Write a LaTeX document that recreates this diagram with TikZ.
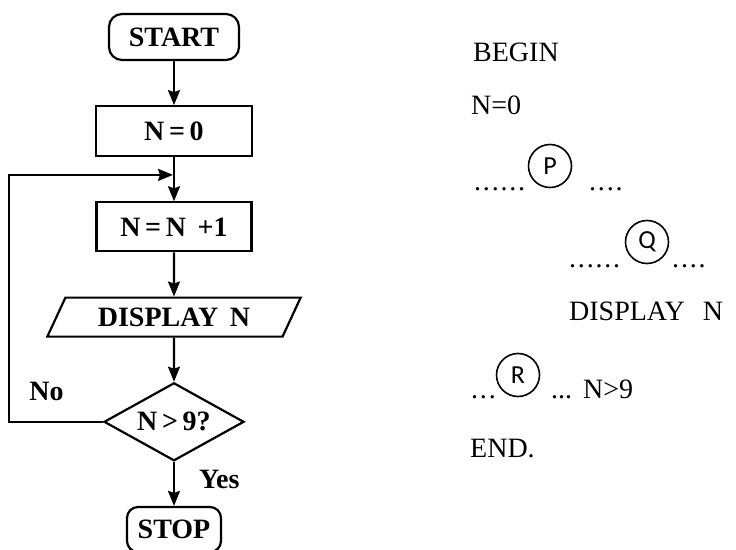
\documentclass[tikz,border=0pt]{standalone}
\usepackage{fontspec}
\setmainfont{Liberation Serif}
\newfontfamily\circfont{Carlito}
\usetikzlibrary{arrows.meta,positioning,shapes.geometric,calc}
\newcommand{\dts}{.\kern1.8pt}

\begin{document}
\begin{tikzpicture}[x=1pt, y=1pt,
  node distance=44pt,
  fc/.style={draw, line width=2.2pt, inner sep=0pt, align=center,
              font=\fontsize{28}{32}\selectfont\bfseries},
  term/.style={fc, rounded corners=13pt},
  proc/.style={fc, minimum width=156pt, minimum height=50pt},
  io/.style={fc, trapezium, trapezium left angle=56, trapezium right angle=124,
             trapezium stretches=true, minimum width=254pt, minimum height=39pt},
  dec/.style={fc, diamond, aspect=1.8, minimum width=140pt, minimum height=78pt},
  arr/.style={-{Stealth[length=15pt, width=12pt, inset=2pt]}, line width=2.2pt},
  lbl/.style={inner sep=0pt, font=\fontsize{28}{32}\selectfont\bfseries},
  txt/.style={inner sep=0pt, anchor=base west, font=\fontsize{28}{32}\selectfont},
  circ/.style={draw, circle, line width=1.6pt, minimum size=43pt, inner sep=0pt,
               font=\circfont\fontsize{26}{30}\selectfont},
]
\useasboundingbox (0,0) rectangle (736,549);

% flowchart
\node[term, minimum width=130pt, minimum height=46pt] (start) at (174,512) {START};
\node[proc, below=of start] (n0) {N\,=\,0};
\node[proc, below=of n0, minimum width=155pt, minimum height=49pt] (inc) {N\,=\,N \,+1};
\node[io, below=of inc] (disp) {DISPLAY \,N};
\node[dec, below=of disp] (test) {N\,>\,9?};
\node[term, below=of test, minimum width=94pt, minimum height=45pt,
      rounded corners=11pt] (stop) {STOP};
\coordinate (join) at ($(n0.south)!0.4!(inc.north)$);

\draw[arr] (start) -- (n0);
\draw[arr] (n0) -- (inc);
\draw[arr] (inc) -- (disp);
\draw[arr] (disp) -- (test);
\draw[arr] (test) -- node[lbl, pos=0.4, right=24pt] {Yes} (stop);
\draw[arr] (test.west) -- node[lbl, pos=0.6, above=20pt] {No} ++(-94,0)
  |- ([xshift=-1pt]join);

% pseudo code
\node[txt] (begin) at (473,487) {BEGIN};
\node[txt] (init) at (471,434) {N=0};
\node[txt] (pa) at (474,358) {\dts\dts\dts\dts\dts\dts};
\node[circ] (cP) at (550,383) {P};
\node[txt] (pb) at (589,358) {\dts\dts\dts\dts};
\node[txt] (qa) at (569,281) {\dts\dts\dts\dts\dts\dts};
\node[circ] (cQ) at (647,307) {Q};
\node[txt] (qb) at (672,281) {\dts\dts\dts\dts};
\node[txt] (show) at (569,228) {DISPLAY\hspace{18pt}N};
\node[txt] (ra) at (471,150) {\dts\dts\dts};
\node[circ] (cR) at (518,174) {R};
\node[txt] (rb) at (551,150) {...};
\node[txt] (cond) at (583,150) {N>9};
\node[txt] (fin) at (470,92) {END.};
\end{tikzpicture}
\end{document}
